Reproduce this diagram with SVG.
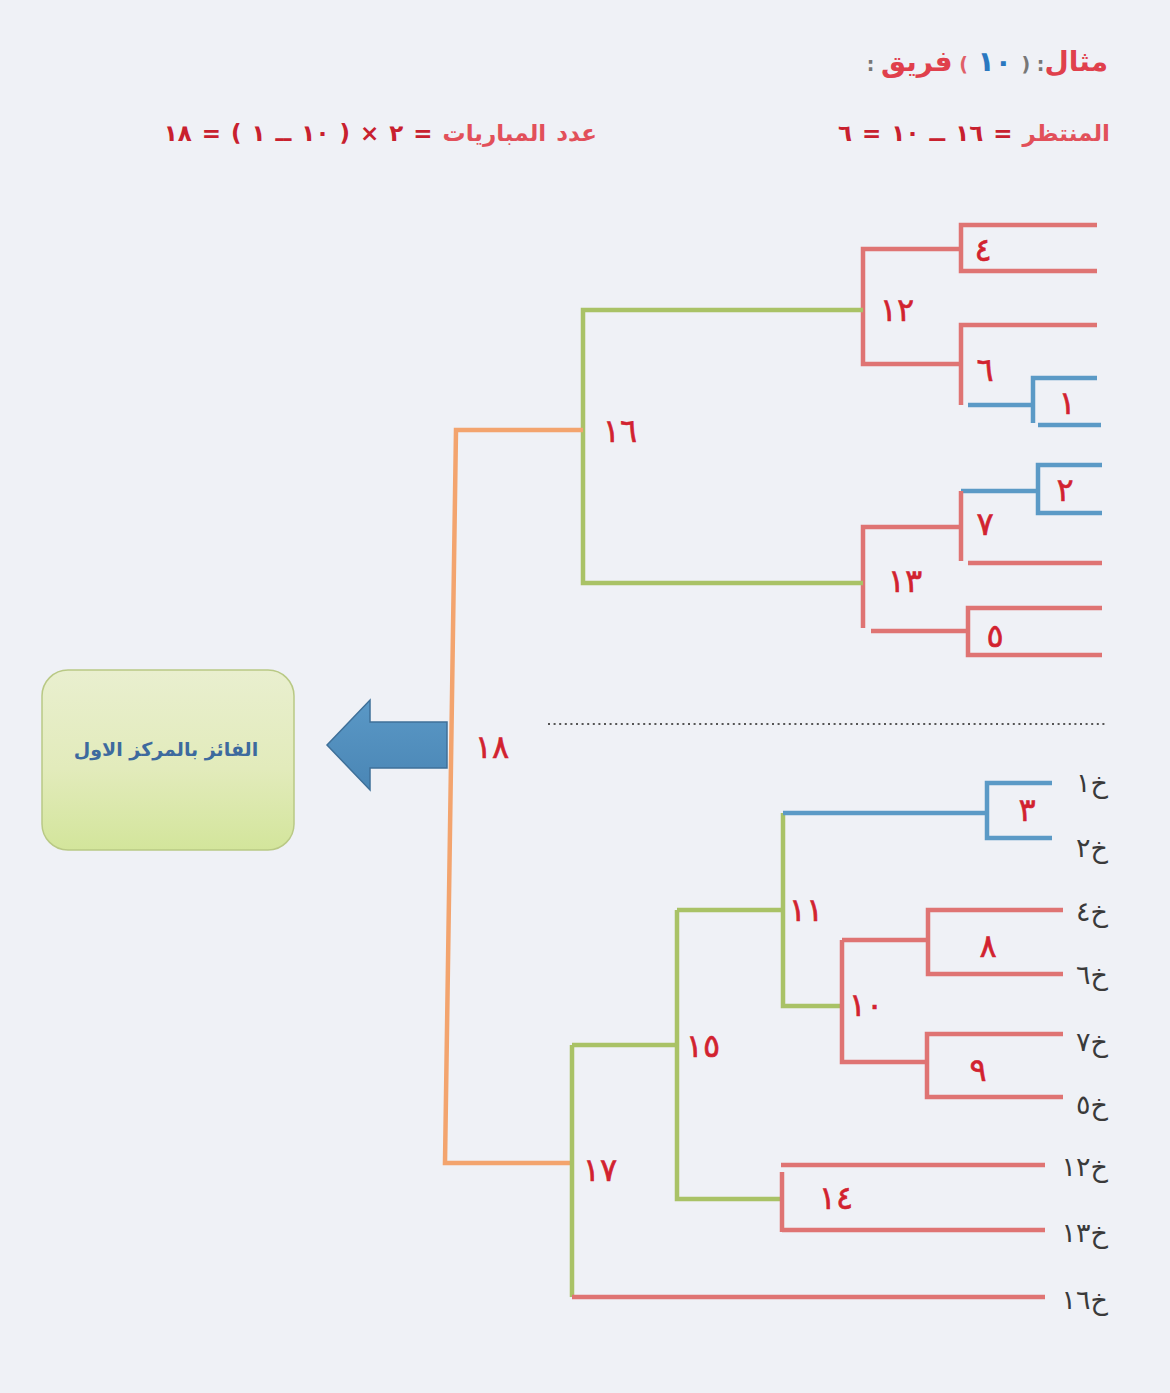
<svg xmlns="http://www.w3.org/2000/svg" width="1170" height="1393" viewBox="0 0 1170 1393">
  <defs>
    <linearGradient id="boxFill" x1="0" y1="0" x2="0" y2="1">
      <stop offset="0" stop-color="#e9efcf"/>
      <stop offset="0.55" stop-color="#e2ebbb"/>
      <stop offset="1" stop-color="#d3e59b"/>
    </linearGradient>
    <linearGradient id="arrowFill" x1="0" y1="0" x2="0" y2="1">
      <stop offset="0" stop-color="#5a98c6"/>
      <stop offset="1" stop-color="#4a86b5"/>
    </linearGradient>
  </defs>
  <style>
    .ln { fill: none; stroke-width: 4.5; stroke-linecap: butt; stroke-linejoin: miter; }
    .red { stroke: #df7473; }
    .grn { stroke: #a9c266; }
    .org { stroke: #f3a46e; }
    .blu { stroke: #5b9ac6; }
    .hand { font-family: "DejaVu Sans", sans-serif; font-size: 32px; fill: #d2222f; stroke: #d2222f; stroke-width: 0.6; text-anchor: middle; }
    .seed { font-family: "DejaVu Serif", "DejaVu Sans", serif; font-size: 27px; fill: #3a3a3a; }
    .hdr { font-family: "DejaVu Sans", sans-serif; font-weight: bold; }
  </style>

  <!-- page -->
  <rect x="0" y="0" width="1170" height="1393" fill="#eff1f6"/>

  <!-- heading -->
  <g id="heading">
    <text class="hdr" x="1108" y="71" direction="rtl" text-anchor="start" font-size="28"><tspan fill="#e0404c">مثال</tspan><tspan fill="#777" font-size="19">:   (</tspan><tspan fill="#2a78c0"> ١٠ </tspan><tspan fill="#e06068" font-size="19">) </tspan><tspan fill="#e0404c">فريق</tspan><tspan fill="#777" font-size="19">  :</tspan></text>
    <text class="hdr" x="1110" y="141" direction="rtl" text-anchor="start" font-size="23" word-spacing="2"><tspan fill="#e2505a">المنتظر</tspan><tspan fill="#c8202e"> = ١٦ ــ ١٠ = ٦</tspan></text>
    <text class="hdr" x="597" y="141" direction="rtl" text-anchor="start" font-size="23" word-spacing="2"><tspan fill="#e2505a">عدد المباريات</tspan><tspan fill="#c8202e"> = ٢ × ( ١٠ ــ ١ ) = ١٨</tspan></text>
  </g>

  <!-- bracket connectors -->
  <g id="connectors">
    <!-- upper half -->
    <path class="ln red" d="M1097 225 H961 V271 H1097"/>
    <path class="ln red" d="M961 249 H863 V364 H961"/>
    <path class="ln red" d="M1097 325 H961 V405"/>
    <path class="ln blu" d="M968 405 H1035"/>
    <path class="ln blu" d="M1097 378 H1033 V423"/>
    <path class="ln blu" d="M1038 425 H1101"/>
    <path class="ln blu" d="M1102 465 H1038 V513 H1102"/>
    <path class="ln blu" d="M961 491 H1038"/>
    <path class="ln red" d="M961 491 V561"/>
    <path class="ln red" d="M968 563 H1102"/>
    <path class="ln red" d="M961 527 H863 V628"/>
    <path class="ln red" d="M871 631 H968"/>
    <path class="ln red" d="M1102 608 H968 V655 H1102"/>
    <path class="ln grn" d="M863 310 H583 V583 H863"/>
    <!-- final -->
    <path class="ln org" d="M583 430 H456 L445 1163 H572"/>
    <!-- lower half -->
    <path class="ln grn" d="M572 1045 V1297"/>
    <path class="ln grn" d="M572 1045 H677"/>
    <path class="ln grn" d="M677 910 V1199 H781"/>
    <path class="ln grn" d="M677 910 H783"/>
    <path class="ln grn" d="M783 813 V1006 H842"/>
    <path class="ln blu" d="M783 813 H987"/>
    <path class="ln blu" d="M1052 783 H987 V838 H1052"/>
    <path class="ln red" d="M1063 910 H928 V974 H1063"/>
    <path class="ln red" d="M842 940 H928"/>
    <path class="ln red" d="M842 940 V1062 H928"/>
    <path class="ln red" d="M1063 1034 H927 V1097 H1063"/>
    <path class="ln red" d="M781 1165 H1045"/>
    <path class="ln red" d="M782 1172 V1232"/>
    <path class="ln red" d="M782 1230 H1045"/>
    <path class="ln red" d="M572 1297 H1045"/>
    <!-- separator -->
    <line x1="548" y1="724" x2="1108" y2="724" stroke="#555" stroke-width="2.2" stroke-dasharray="2 3.6"/>
  </g>

  <!-- match numbers -->
  <g id="match-labels">
    <text class="hand" x="983" y="261">٤</text>
    <text class="hand" x="897" y="321">١٢</text>
    <text class="hand" x="985" y="381">٦</text>
    <text class="hand" x="1067" y="414">١</text>
    <text class="hand" x="1065" y="501">٢</text>
    <text class="hand" x="985" y="535">٧</text>
    <text class="hand" x="905" y="592">١٣</text>
    <text class="hand" x="995" y="647">٥</text>
    <text class="hand" x="620" y="442">١٦</text>
    <text class="hand" x="492" y="758">١٨</text>
    <text class="hand" x="1027" y="821">٣</text>
    <text class="hand" x="806" y="921">١١</text>
    <text class="hand" x="988" y="957">٨</text>
    <text class="hand" x="866" y="1016">١٠</text>
    <text class="hand" x="978" y="1081">٩</text>
    <text class="hand" x="703" y="1057">١٥</text>
    <text class="hand" x="836" y="1209">١٤</text>
    <text class="hand" x="600" y="1181">١٧</text>
  </g>

  <!-- seeded entries -->
  <g id="seeds">
    <text class="seed" x="1108" y="792" direction="rtl" text-anchor="start">خ١</text>
    <text class="seed" x="1108" y="857" direction="rtl" text-anchor="start">خ٢</text>
    <text class="seed" x="1108" y="921" direction="rtl" text-anchor="start">خ٤</text>
    <text class="seed" x="1108" y="984" direction="rtl" text-anchor="start">خ٦</text>
    <text class="seed" x="1108" y="1051" direction="rtl" text-anchor="start">خ٧</text>
    <text class="seed" x="1108" y="1114" direction="rtl" text-anchor="start">خ٥</text>
    <text class="seed" x="1108" y="1176" direction="rtl" text-anchor="start">خ١٢</text>
    <text class="seed" x="1108" y="1242" direction="rtl" text-anchor="start">خ١٣</text>
    <text class="seed" x="1108" y="1309" direction="rtl" text-anchor="start">خ١٦</text>
  </g>

  <!-- winner arrow -->
  <g id="winner-arrow">
    <path d="M327 745 L370 700 L370 722 L447 722 L447 768 L370 768 L370 790 Z" fill="url(#arrowFill)" stroke="#3f7099" stroke-width="1.5" stroke-linejoin="miter"/>
  </g>

  <!-- winner box -->
  <g id="winner-box">
    <rect x="42" y="670" width="252" height="180" rx="26" ry="26" fill="url(#boxFill)" stroke="#b9c985" stroke-width="1.5"/>
    <text x="166" y="756" font-family="DejaVu Sans, sans-serif" font-weight="bold" font-size="19" fill="#3d6a9e" text-anchor="middle" direction="rtl">الفائز بالمركز الاول</text>
  </g>
</svg>
